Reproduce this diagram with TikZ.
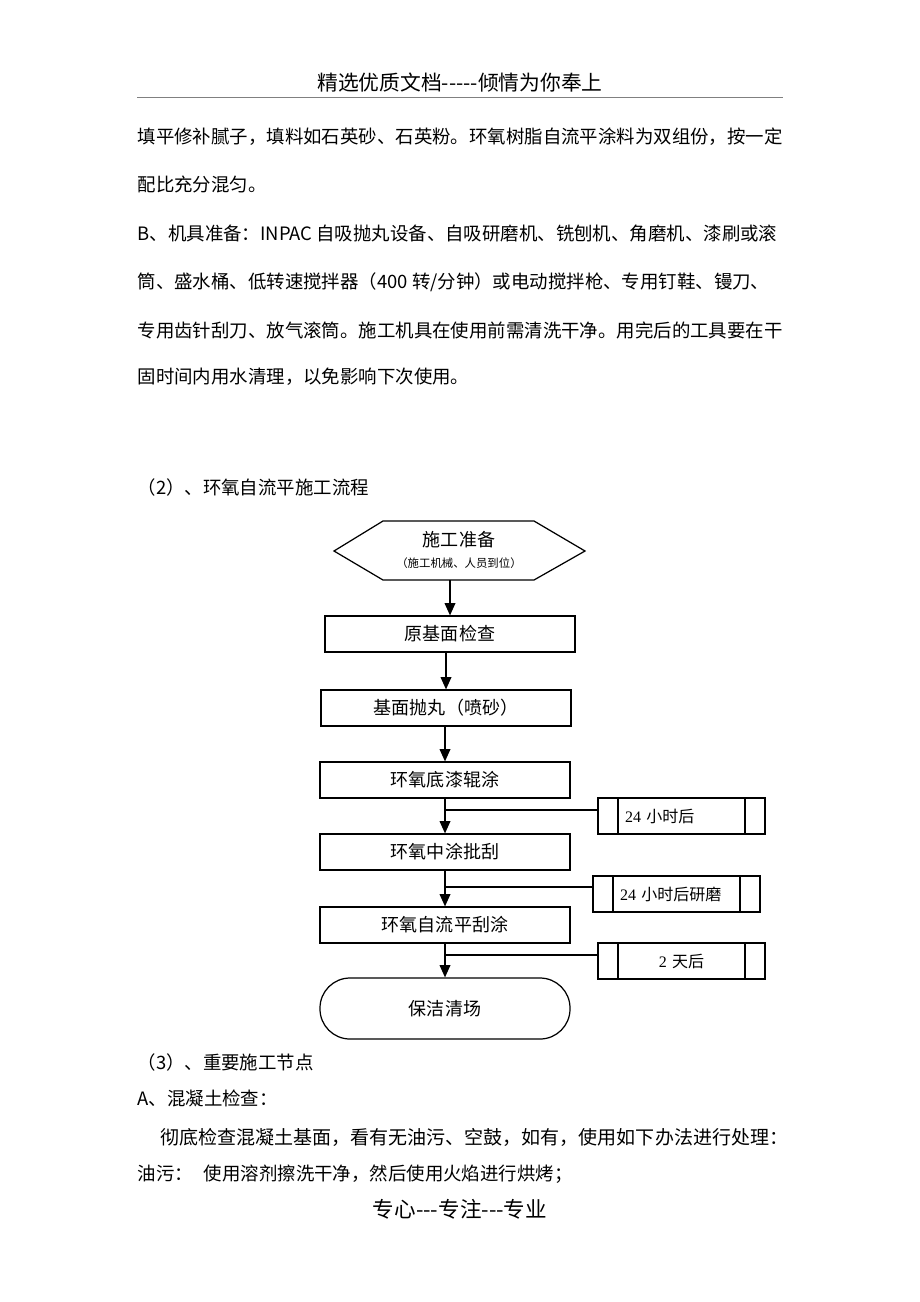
\documentclass[tikz,border=0pt]{standalone}
\usepackage{fontspec}
\setmainfont{Noto Sans CJK SC}
\newfontfamily\latinserif{Liberation Serif}
\usetikzlibrary{arrows.meta}
\newlength\unitpx
\setlength\unitpx{0.022826cm}
\newcommand\hy{\mbox{-}}
\begin{document}
\begin{tikzpicture}[x=0.022826cm, y=-0.022826cm, line width=0.8pt,
    body/.style={anchor=west, inner sep=0, font=\fontsize{11.97}{14}\selectfont},
    stepbox/.style={draw, minimum width=250\unitpx, minimum height=36\unitpx, inner sep=0, font=\fontsize{11.7}{13}\selectfont},
    endbox/.style={stepbox, rounded corners=30\unitpx, minimum height=61\unitpx},
    waitbox/.style={draw, minimum width=167\unitpx, minimum height=36\unitpx, inner ysep=0, inner xsep=27\unitpx,
        text width=113\unitpx, align=left, font=\fontsize{10.4}{12}\selectfont,
        path picture={
            \draw ([xshift=20\unitpx]path picture bounding box.north west) -- ([xshift=20\unitpx]path picture bounding box.south west);
            \draw ([xshift=-20\unitpx]path picture bounding box.north east) -- ([xshift=-20\unitpx]path picture bounding box.south east);
        }},
    arr/.style={-{Triangle[length=8pt, width=7pt]}}]

    \path[fill=white] (0,0) rectangle (920,1302);
    \useasboundingbox (0,0) rectangle (920,1302);

    % Page header and footer
    \node[font=\fontsize{13.5}{15}\selectfont] (head) at (460,83) {精选优质文档\hy\hy\hy\hy\hy 倾情为你奉上};
    \draw[gray, line width=0.6pt] (137,97) -- (783,97);
    \node[font=\fontsize{14}{16}\selectfont] (foot) at (460,1209) {专心\hy\hy\hy 专注\hy\hy\hy 专业};

    % Text above the chart
    \node[body] (fill)  at (137,137) {填平修补腻子，填料如石英砂、石英粉。环氧树脂自流平涂料为双组份，按一定};
    \node[body] (mix)   at (137,184) {配比充分混匀。};
    \node[body] (tools) at (137,234) {B、机具准备：INPAC 自吸抛丸设备、自吸研磨机、铣刨机、角磨机、漆刷或滚};
    \node[body] (drum)  at (137,282) {筒、盛水桶、低转速搅拌器（400 转/分钟）或电动搅拌枪、专用钉鞋、镘刀、};
    \node[body] (rake)  at (137,330) {专用齿针刮刀、放气滚筒。施工机具在使用前需清洗干净。用完后的工具要在干};
    \node[body] (rinse) at (137,377) {固时间内用水清理，以免影响下次使用。};
    \node[body] (flowtitle) at (137,487) {（2）、环氧自流平施工流程};

    % Draw the hexagon
    \draw (334,551) -- (383,521) -- (534,521) -- (585,551) -- (534,580) -- (383,580) -- cycle;
    \node[font=\fontsize{11.7}{13}\selectfont] (prep) at (459,540) {施工准备};
    \node[font=\fontsize{7.4}{9}\selectfont] (prepnote) at (459,563) {（施工机械、人员到位）};
    \coordinate (prepout) at (450,580);

    % Draw the steps
    \node[stepbox] (check)  at (450,634)   {原基面检查};
    \node[stepbox] (blast)  at (446,708)   {基面抛丸（喷砂）};
    \node[stepbox] (primer) at (445,780)   {环氧底漆辊涂};
    \node[stepbox] (coat)   at (445,852)   {环氧中涂批刮};
    \node[stepbox] (level)  at (445,925)   {环氧自流平刮涂};
    \node[endbox]  (clean)  at (445,1008.5) {保洁清场};

    % Draw the waiting boxes
    \node[waitbox] (wait1) at (681.5,816) {{\latinserif 24} 小时后};
    \node[waitbox] (wait2) at (676.5,894) {{\latinserif 24} 小时后研磨};
    \node[waitbox, align=center] (wait3) at (681.5,961) {{\latinserif 2} 天后};

    % Draw the arrows
    \coordinate (out1) at (check.south -| blast.north);
    \draw[arr] (prepout) -- (check.north);
    \draw[arr] (out1) -- (blast.north);
    \draw[arr] (blast.south -| primer.north) -- (primer.north);
    \draw[arr] (primer.south -| coat.north) -- (coat.north);
    \draw[arr] (coat.south -| level.north) -- (level.north);
    \draw[arr] (level.south -| clean.north) -- (clean.north);

    % Draw the side links
    \coordinate (j1) at ([yshift=6\unitpx]wait1.west);
    \coordinate (j2) at ([yshift=7\unitpx]wait2.west);
    \coordinate (j3) at ([yshift=6\unitpx]wait3.west);
    \draw (j1) -- (j1 -| primer);
    \draw (j2) -- (j2 -| coat);
    \draw (j3) -- (j3 -| level);

    % Text below the chart
    \node[body] (keypts) at (137,1062) {（3）、重要施工节点};
    \node[body] (concrete) at (137,1098) {A、混凝土检查：};
    \node[body, font=\fontsize{12.35}{14}\selectfont] (inspect) at (160,1137) {彻底检查混凝土基面，看有无油污、空鼓，如有，使用如下办法进行处理：};
    \node[body] (oil) at (137,1174) {油污：\hspace{0.6em}使用溶剂擦洗干净，然后使用火焰进行烘烤；};

\end{tikzpicture}
\end{document}
